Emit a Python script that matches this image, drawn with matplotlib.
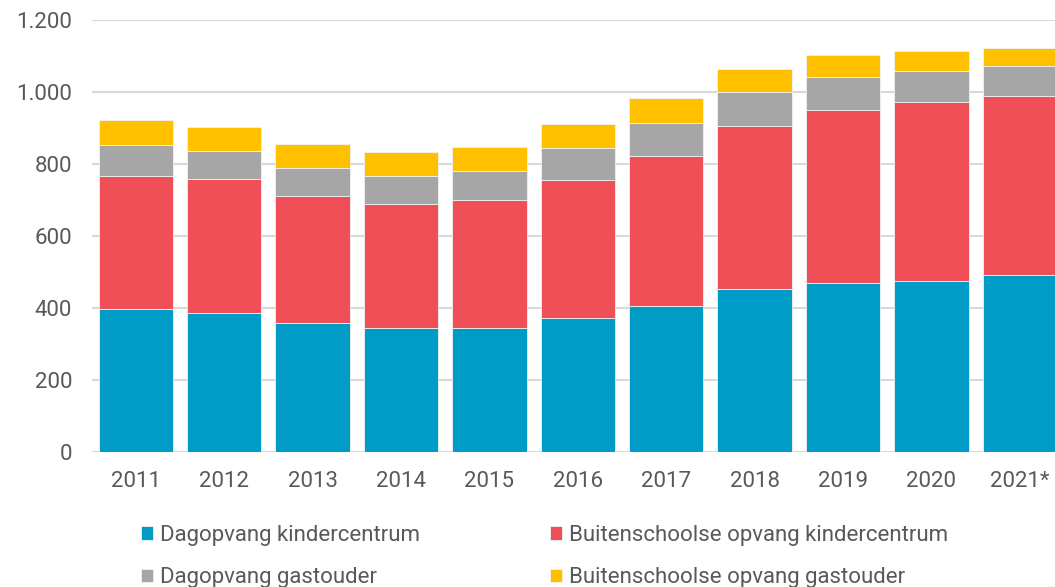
import matplotlib
matplotlib.use('Agg')
import matplotlib.pyplot as plt
import numpy as np

plt.rcParams['font.family'] = ['Roboto', 'DejaVu Sans']

years = ['2011', '2012', '2013', '2014', '2015', '2016', '2017', '2018', '2019', '2020', '2021*']
dagopvang_kc = [396, 387, 357, 344, 344, 371, 406, 453, 470, 474, 491]
bso_kc = [372, 370, 353, 346, 355, 384, 415, 452, 481, 498, 498]
dagopvang_go = [84, 80, 78, 78, 82, 89, 92, 94, 91, 86, 83]
bso_go = [71, 67, 67, 65, 66, 68, 70, 65, 62, 56, 50]

series = [
    ('Dagopvang kindercentrum', dagopvang_kc, '#009BC6'),
    ('Buitenschoolse opvang kindercentrum', bso_kc, '#EF4F56'),
    ('Dagopvang gastouder', dagopvang_go, '#A6A6A6'),
    ('Buitenschoolse opvang gastouder', bso_go, '#FFC000'),
]

fig = plt.figure(figsize=(10.55, 5.87), dpi=100)
# axes runs a bit past the right edge, like the reference crop
ax = fig.add_axes([91.6 / 1055, 135 / 587, (1064 - 91.6) / 1055, 432 / 587])

x = np.arange(len(years))
bottom = np.zeros(len(years))
bars = {}
for label, vals, color in series:
    bars[label] = ax.bar(x, vals, width=0.84, bottom=bottom, color=color,
                         edgecolor='#f2f2f2', linewidth=0.6, label=label, zorder=3)
    bottom += np.array(vals)

ax.set_xlim(-0.5, len(years) - 0.5)
ax.set_ylim(0, 1200)
ax.set_yticks(range(0, 1201, 200))
ax.set_yticklabels(['0', '200', '400', '600', '800', '1.000', '1.200'])
ax.set_xticks(x)
ax.set_xticklabels(years)
ax.grid(axis='y', color='#d9d9d9', linewidth=1.5, zorder=0)
ax.set_axisbelow(True)
for s in ax.spines.values():
    s.set_visible(False)
ax.tick_params(axis='both', length=0, labelsize=16, colors='#595959')
ax.tick_params(axis='x', pad=14)
ax.tick_params(axis='y', pad=14)

order = ['Dagopvang kindercentrum', 'Dagopvang gastouder',
         'Buitenschoolse opvang kindercentrum', 'Buitenschoolse opvang gastouder']
fig.legend([bars[k] for k in order], order, ncol=2, loc='upper left',
           bbox_to_anchor=(121 / 1055, 1 - 505 / 587), frameon=False,
           fontsize=16, labelcolor='#595959', handlelength=0.55, handleheight=0.55,
           handletextpad=0.3, columnspacing=5.85, labelspacing=0.95)

fig.savefig('out.png', dpi=100)
